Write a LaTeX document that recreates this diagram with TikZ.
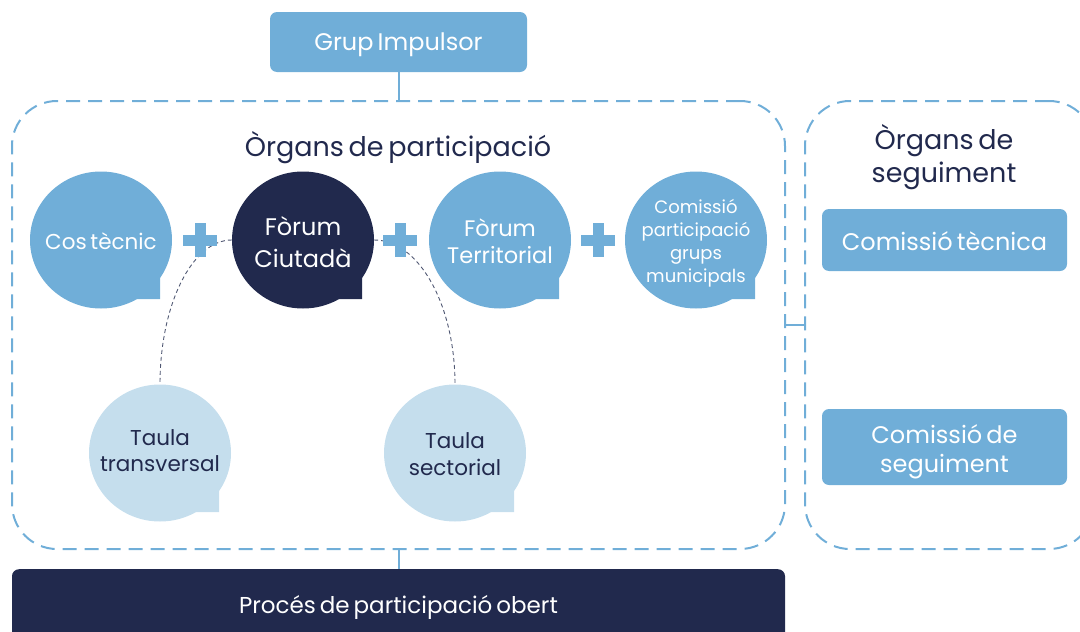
\documentclass[tikz,border=0pt]{standalone}
\usepackage{fontspec}
\setmainfont{Poppins}[WordSpace=0.65]
\usetikzlibrary{shapes.geometric}
\definecolor{lblue}{HTML}{70AED8}
\definecolor{navy}{HTML}{21294D}
\definecolor{pale}{HTML}{C5DEED}
\definecolor{curvec}{HTML}{505873}
\newcommand\fsz[2]{\fontsize{#1}{#2}\selectfont}
\newcommand\shiftdown[2]{\raisebox{-#1}[\height][\depth]{#2}}
\newcommand\bubtail[3]{\fill[#3] (#1+59,#2+28) -- (#1+59,#2+59) -- (#1+28,#2+59) -- (#1+20,#2+20) -- cycle;}
\begin{document}
\begin{tikzpicture}[x=1pt,y=-1pt,
  dbox/.style={draw=lblue, line width=2pt, dash pattern=on 14pt off 8pt, rounded corners=45pt},
  rbox/.style={fill=lblue, rounded corners=7pt, text=white, align=center, inner sep=0pt},
  bub/.style={ellipse, minimum width=142pt, minimum height=137pt, inner sep=0pt},
  btext/.style={align=center, inner sep=0pt},
  link/.style={draw=lblue, line width=2pt},
  curve/.style={draw=curvec, line width=0.9pt, dash pattern=on 4pt off 3pt},
  plus/.style={draw=lblue, line width=11pt}
]
\useasboundingbox (0,0) rectangle (1080,632);
\clip (0,0) rectangle (1080,632);

% boxes
\node[rbox, minimum width=257pt, minimum height=60pt, font=\fsz{24}{28}] (gi) at (398.5,42) {\shiftdown{3pt}{Grup Impulsor}};
\node[dbox, minimum width=773pt, minimum height=448pt] (org) at (398.5,325) {};
\node[text=navy, font=\fsz{27}{32}, inner sep=0pt] (orgt) at (398,148) {Òrgans de participació};
\node[dbox, minimum width=289pt, minimum height=448pt] (seg) at (949.5,325) {};
\node[text=navy, font=\fsz{27}{33}, align=center, inner sep=0pt] (segt) at (944,157) {Òrgans de\\seguiment};
\node[rbox, minimum width=245pt, minimum height=62pt, font=\fsz{24}{28}] (ct) at (944.5,240) {\shiftdown{1pt}{Comissió tècnica}};
\node[rbox, minimum width=245pt, minimum height=76pt, font=\fsz{24}{30}] (cs) at (944.5,447) {\shiftdown{5pt}{\begin{tabular}{@{}c@{}}Comissió de\\[-1pt]seguiment\end{tabular}}};
\node[fill=navy, rounded corners=7pt, minimum width=773pt, minimum height=76pt, anchor=north, text=white, font=\fsz{23}{28}, inner sep=0pt] (po) at (398.5,569) {Procés de participació obert};

% connectors between boxes
\draw[link] (gi.south) -- (org.north);
\draw[link] (org.south) -- (po.north);
\draw[link] (org.east) -- (seg.west);

% bubbles
\node[bub, fill=lblue] (cos) at (101,240) {};
\bubtail{101}{240}{lblue}
\node[btext, text=white, font=\fsz{21.5}{26}] (cost) at (101,241) {Cos tècnic};

\node[bub, fill=navy] (fc) at (303,240) {};
\bubtail{303}{240}{navy}
\node[btext, text=white, font=\fsz{24}{32}] (fct) at (303,242) {Fòrum\\Ciutadà};

\node[bub, fill=lblue] (ft) at (500,240) {};
\bubtail{500}{240}{lblue}
\node[btext, text=white, font=\fsz{22.5}{27}] (ftt) at (500,241) {Fòrum\\Territorial};

\node[bub, fill=lblue] (cp) at (696,240) {};
\bubtail{696}{240}{lblue}
\node[btext, text=white, font=\fsz{18}{23}] (cpt) at (696,243) {Comissió\\participació\\grups\\municipals};

\node[bub, fill=pale] (tt) at (160,453) {};
\bubtail{160}{453}{pale}
\node[btext, text=navy, font=\fsz{21.5}{26}] (ttt) at (160,451) {Taula\\transversal};

\node[bub, fill=pale] (ts) at (455,453) {};
\bubtail{455}{453}{pale}
\node[btext, text=navy, font=\fsz{21.5}{27}] (tst) at (455,454) {Taula\\sectorial};

% dashed curves
\draw[curve] (fc.west) .. controls (192,240) and (160,305) .. (tt.north);
\draw[curve] (fc.east) .. controls (419,240) and (455,305) .. (ts.north);

% plus signs
\draw[plus] (183,240) -- (217,240) (200,223) -- (200,257);
\draw[plus] (383,240) -- (417,240) (400,223) -- (400,257);
\draw[plus] (581,240) -- (615,240) (598,223) -- (598,257);
\end{tikzpicture}
\end{document}
